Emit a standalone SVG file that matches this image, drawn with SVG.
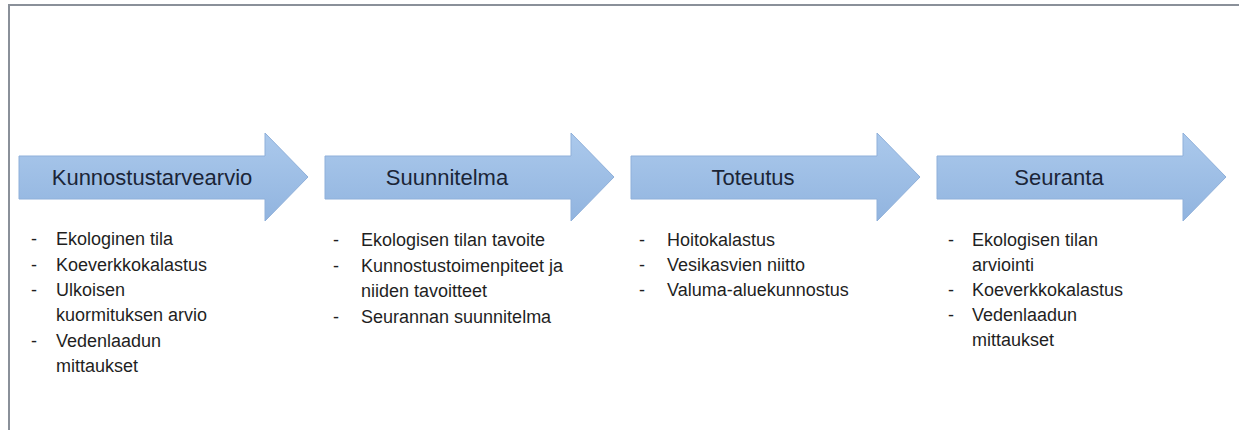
<svg xmlns="http://www.w3.org/2000/svg" width="1239" height="430" viewBox="0 0 1239 430">
<style>
.frame{fill:none;stroke:#8a9099;stroke-width:2}
.arrow{fill:url(#g);stroke:#8fb0da;stroke-width:1}
.head{font-family:"Liberation Sans",Arial,sans-serif;font-size:22px;fill:#1b2537;text-anchor:middle}
.item{font-family:"Liberation Sans",Arial,sans-serif;font-size:18px;fill:#1f1f1f}
</style>
<defs>
<linearGradient id="g" x1="0" y1="0" x2="0" y2="1">
<stop offset="0" stop-color="#abc9ec"/>
<stop offset="1" stop-color="#91b4df"/>
</linearGradient>
<path id="arr" d="M0,0 H246 V-23 L289,21 L246,65 V43 H0 Z"/>
</defs>
<rect width="1239" height="430" fill="#ffffff"/>
<path class="frame" d="M9,430 V5 H1239"/>
<g id="connectors"></g>
<g id="n1">
<use href="#arr" class="arrow" x="19" y="156"/>
<text class="head" x="152" y="185">Kunnostustarvearvio</text>
<g class="item">
<text x="31" y="245">-</text><text x="56" y="245">Ekologinen tila</text>
<text x="31" y="271">-</text><text x="56" y="271">Koeverkkokalastus</text>
<text x="31" y="296">-</text><text x="56" y="296">Ulkoisen</text>
<text x="56" y="321">kuormituksen arvio</text>
<text x="31" y="347">-</text><text x="56" y="347">Vedenlaadun</text>
<text x="56" y="372">mittaukset</text>
</g>
</g>
<g id="n2">
<use href="#arr" class="arrow" x="325" y="156"/>
<text class="head" x="447" y="185">Suunnitelma</text>
<g class="item">
<text x="333" y="246">-</text><text x="361" y="246">Ekologisen tilan tavoite</text>
<text x="333" y="272">-</text><text x="361" y="272">Kunnostustoimenpiteet ja</text>
<text x="361" y="297">niiden tavoitteet</text>
<text x="333" y="323">-</text><text x="361" y="323">Seurannan suunnitelma</text>
</g>
</g>
<g id="n3">
<use href="#arr" class="arrow" x="631" y="156"/>
<text class="head" x="753" y="185">Toteutus</text>
<g class="item">
<text x="639" y="246">-</text><text x="667" y="246">Hoitokalastus</text>
<text x="639" y="271">-</text><text x="667" y="271">Vesikasvien niitto</text>
<text x="639" y="296">-</text><text x="667" y="296">Valuma-aluekunnostus</text>
</g>
</g>
<g id="n4">
<use href="#arr" class="arrow" x="937" y="156"/>
<text class="head" x="1059" y="185">Seuranta</text>
<g class="item">
<text x="948" y="246">-</text><text x="972" y="246">Ekologisen tilan</text>
<text x="972" y="271">arviointi</text>
<text x="948" y="296">-</text><text x="972" y="296">Koeverkkokalastus</text>
<text x="948" y="321">-</text><text x="972" y="321">Vedenlaadun</text>
<text x="972" y="346">mittaukset</text>
</g>
</g>
</svg>
